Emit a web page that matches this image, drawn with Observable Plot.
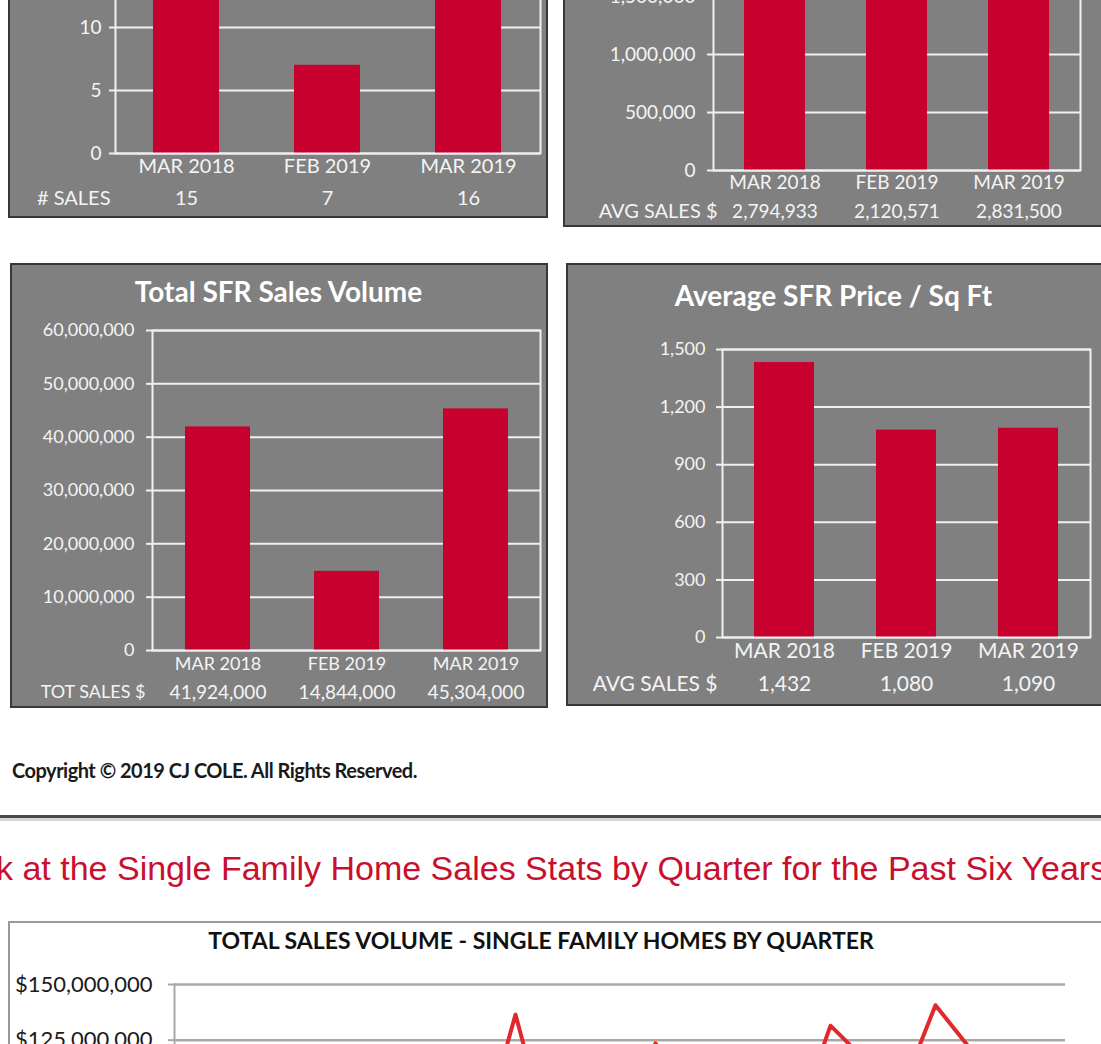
<!DOCTYPE html>
<html>
<head>
<meta charset="utf-8">
<script src="https://cdn.jsdelivr.net/npm/d3@7"></script>
<script src="https://cdn.jsdelivr.net/npm/@observablehq/plot@0.6"></script>
<style>
  html, body { margin: 0; padding: 0; background: #fff; }
  #page { position: relative; width: 1101px; height: 1044px; overflow: hidden; background: #fff; }
  .panel { position: absolute; box-sizing: border-box; background: #808080; border: 2px solid #383838; }
  .panel svg, .white svg { position: absolute; left: -2px; top: -2px; overflow: visible; max-width: none !important; }
  .white { position: absolute; box-sizing: border-box; background: #fff; border: 2px solid #9a9a9a; }
  #copy { position: absolute; left: 12px; top: 758px; font-family: Lato, Roboto, sans-serif; font-weight: 700; font-size: 20px; letter-spacing: -0.5px; color: #1a1a1a; white-space: nowrap; }
  #sep1 { position: absolute; left: 0; top: 815px; width: 1101px; height: 3px; background: #4a4a4a; }
  #sep2 { position: absolute; left: 0; top: 818px; width: 1101px; height: 3px; background: #d4d4d4; }
  #heading { position: absolute; left: -4px; top: 849px; font-family: "Liberation Sans", Arial, sans-serif; font-size: 34px; color: #c8102e; white-space: nowrap; }
</style>
</head>
<body>
<div id="page">
  <div class="panel" id="p1" style="left:8px; top:-170px; width:540px; height:388px;"></div>
  <div class="panel" id="p2" style="left:563px; top:-260px; width:545px; height:487px;"></div>
  <div class="panel" id="p3" style="left:10px; top:263px; width:538px; height:445px;"></div>
  <div class="panel" id="p4" style="left:566px; top:263px; width:540px; height:443px;"></div>
  <div id="copy">Copyright © 2019 CJ COLE. All Rights Reserved.</div>
  <div id="sep1"></div><div id="sep2"></div>
  <div id="heading">k at the Single Family Home Sales Stats by Quarter for the Past Six Years</div>
  <div class="white" id="p5" style="left:8px; top:921px; width:1110px; height:500px;"></div>
</div>
<script>
// ---- data ----
const months = ["MAR 2018", "FEB 2019", "MAR 2019"];
const salesCount = [15, 7, 16];
const avgSalesPrice = [2794933, 2120571, 2831500];
const totalSalesVolume = [41924000, 14844000, 45304000];
const avgPricePerSqFt = [1432, 1080, 1090];

const quarters = [
  "Q1 2013","Q2 2013","Q3 2013","Q4 2013",
  "Q1 2014","Q2 2014","Q3 2014","Q4 2014",
  "Q1 2015","Q2 2015","Q3 2015","Q4 2015",
  "Q1 2016","Q2 2016","Q3 2016","Q4 2016",
  "Q1 2017","Q2 2017","Q3 2017","Q4 2017",
  "Q1 2018","Q2 2018","Q3 2018","Q4 2018",
  "Q1 2019"
];
const quarterlyVolume = [
  95000000, 88000000, 104000000, 92000000,
  110000000, 84000000, 98000000, 112000000,
  80000000, 136500000, 78000000, 105000000,
  90000000, 123600000, 101000000, 94000000,
  108000000, 87000000, 131500000, 116000000,
  101000000, 140700000, 121000000, 99000000,
  112000000
];

const FONT = "Lato, 'Open Sans', sans-serif";
const BAR = "#c8002e";
const fmt = d3.format(",");

function barPanel(el, cfg) {
  const data = months.map((m, i) => ({m, v: cfg.values[i]}));
  const ticks = d3.range(0, cfg.yMax + 1, cfg.yStep);
  const marks = [
    Plot.gridY(ticks, {stroke: "#f0f0f0", strokeOpacity: 1, strokeWidth: 2}),
    Plot.barY(data, {x: "m", y: "v", fill: BAR}),
    Plot.frame({stroke: "#f0f0f0", strokeWidth: 2}),
    Plot.axisY(ticks, {label: null, tickSize: 6, tickPadding: cfg.tickPad, stroke: "#f0f0f0", strokeWidth: 2, fill: "#f4f4f4",
      tickFormat: d => fmt(d), fontSize: cfg.yFont, fontFamily: FONT}),
    Plot.text(data, {x: "m", text: "m", frameAnchor: "bottom", dy: cfg.catDy, lineAnchor: "middle",
      fill: "#f4f4f4", fontSize: cfg.catFont, fontFamily: FONT}),
    Plot.text(data, {x: "m", text: d => fmt(d.v), frameAnchor: "bottom", dy: cfg.valDy, lineAnchor: "middle",
      fill: "#f4f4f4", fontSize: cfg.valFont, fontFamily: FONT}),
    Plot.text([cfg.rowLabel], {frameAnchor: "bottom-left", dx: cfg.rowDx, dy: cfg.valDy, lineAnchor: "middle",
      textAnchor: "end", fill: "#f4f4f4", fontSize: cfg.rowFont || cfg.valFont, fontFamily: FONT})
  ];
  if (cfg.title) {
    marks.push(Plot.text([cfg.title], {frameAnchor: "top", dx: cfg.titleDx, dy: cfg.titleDy, lineAnchor: "middle",
      fill: "#ffffff", fontSize: 28, fontWeight: "bold", fontFamily: FONT}));
  }
  const svg = Plot.plot({
    width: cfg.width, height: cfg.height,
    marginLeft: cfg.ml, marginRight: cfg.mr, marginTop: cfg.mt, marginBottom: cfg.mb,
    style: {background: "transparent", color: "#f4f4f4", fontFamily: FONT, overflow: "visible"},
    x: {domain: months, paddingInner: cfg.pad, paddingOuter: cfg.pad / 2, axis: null},
    y: {domain: [0, cfg.yMax], axis: null},
    marks
  });
  document.getElementById(el).appendChild(svg);
}

barPanel("p1", {values: salesCount, yMax: 20, yStep: 5, width: 540, height: 388,
  ml: 107, mr: 8, mt: 71, mb: 65, pad: 0.53, tickPad: 8, yFont: 19,
  catDy: 13, catFont: 20, valDy: 45, valFont: 20, rowLabel: "# SALES", rowDx: -5});

barPanel("p2", {values: avgSalesPrice, yMax: 3000000, yStep: 500000, width: 545, height: 487,
  ml: 150, mr: 28, mt: 82, mb: 57, pad: 0.5, tickPad: 12, yFont: 19,
  catDy: 12, catFont: 19, valDy: 41, valFont: 19, rowLabel: "AVG SALES $", rowFont: 20, rowDx: 4});

barPanel("p3", {values: totalSalesVolume, yMax: 60000000, yStep: 10000000, width: 538, height: 445,
  ml: 142, mr: 8, mt: 67, mb: 58, pad: 0.5, tickPad: 12, yFont: 18,
  catDy: 14, catFont: 18, valDy: 42, valFont: 19, rowLabel: "TOT SALES $", rowFont: 18, rowDx: -7,
  title: "Total SFR Sales Volume", titleDx: -68, titleDy: -37});

barPanel("p4", {values: avgPricePerSqFt, yMax: 1500, yStep: 300, width: 540, height: 443,
  ml: 156, mr: 16, mt: 86, mb: 69, pad: 0.51, tickPad: 11, yFont: 18,
  catDy: 14, catFont: 21, valDy: 47, valFont: 21, rowLabel: "AVG SALES $", rowDx: -5,
  title: "Average SFR Price / Sq Ft", titleDx: -73, titleDy: -52});

// ---- quarterly line chart ----
{
  const data = quarters.map((q, i) => ({q, v: quarterlyVolume[i]}));
  const ticks = d3.range(0, 150000001, 25000000);
  const svg = Plot.plot({
    width: 1110, height: 457,
    marginLeft: 166, marginRight: 53, marginTop: 63, marginBottom: 60,
    style: {background: "transparent", color: "#222", fontFamily: FONT, overflow: "visible"},
    x: {type: "point", domain: quarters, padding: 0.5, axis: null},
    y: {domain: [0, 150000000], axis: null},
    marks: [
      Plot.gridY(ticks, {stroke: "#a8a8a8", strokeOpacity: 1, strokeWidth: 2.5}),
      Plot.frame({anchor: "left", stroke: "#a8a8a8", strokeWidth: 2}),
      Plot.axisY(ticks, {label: null, tickSize: 6, tickPadding: 16, stroke: "#a8a8a8", strokeWidth: 2, fill: "#1a1a1a",
        tickFormat: d => "$" + fmt(d), fontSize: 22, fontFamily: FONT, letterSpacing: -0.9}),
      Plot.line(data, {x: "q", y: "v", stroke: "#e1282d", strokeWidth: 4}),
      Plot.text(["TOTAL SALES VOLUME - SINGLE FAMILY HOMES BY QUARTER"], {frameAnchor: "top", dx: -79, dy: -43,
        lineAnchor: "middle", fill: "#111", fontSize: 23, fontWeight: "bold", fontFamily: FONT, letterSpacing: -0.2})
    ]
  });
  document.getElementById("p5").appendChild(svg);
}
</script>
</body>
</html>
